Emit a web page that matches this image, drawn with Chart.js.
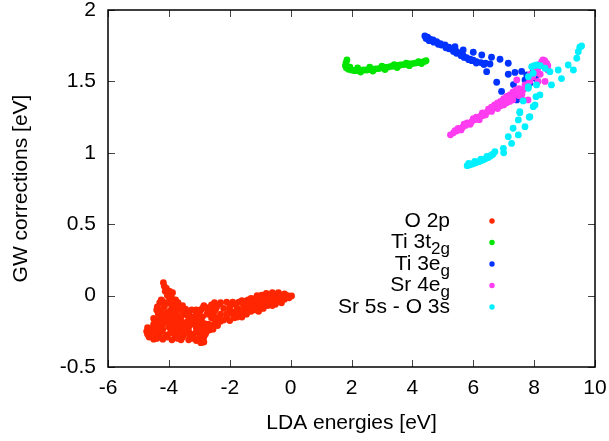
<!DOCTYPE html>
<html lang="en">
<head>
<meta charset="utf-8">
<title>GW corrections</title>
<script src="https://cdn.jsdelivr.net/npm/chart.js@4.4.1/dist/chart.umd.min.js"></script>
<style>
  html, body { margin: 0; padding: 0; background: #fff; }
  #wrap { width: 609px; height: 441px; }
</style>
</head>
<body>
<div id="wrap"><canvas id="grafico" width="609" height="441"></canvas></div>
<script>
// Ejes
const xTicks = [-6, -4, -2, 0, 2, 4, 6, 8, 10];
const xTickLabels = ["-6", "-4", "-2", "0", "2", "4", "6", "8", "10"];
const yTicks = [-0.5, 0, 0.5, 1, 1.5, 2];
const yTickLabels = ["-0.5", "0", "0.5", "1", "1.5", "2"];

// Leyenda (texto principal + subíndice)
const seriesNames = ["O 2p", "Ti 3t", "Ti 3e", "Sr 4e", "Sr 5s - O 3s"];
const seriesSubs = ["", "2g", "g", "g", ""];

// Datos [LDA, GW]
const o2p = [
  [-4.18,0.09],[-4.15,0.065],[-4.08,0.05],[-4.12,0.03],[-3.97,0.03],[-3.88,0.02],[-4.05,0.0],[-3.92,-0.01],
  [-4.25,-0.03],[-3.98,-0.03],[-3.78,-0.03],[-4.2,-0.04],[-3.92,-0.06],
  [-4.3,-0.05],[-4.1,-0.055],[-3.85,-0.05],[-3.7,-0.05],
  [-4.38,-0.08],[-4.15,-0.08],[-3.9,-0.08],[-3.75,-0.085],[-3.55,-0.07],
  [-4.4,-0.1],[-4.25,-0.1],[-3.95,-0.105],[-3.62,-0.1],[-3.45,-0.095],[-3.25,-0.1],[-3.1,-0.1],[-2.95,-0.1],
  [-4.35,-0.125],[-4.2,-0.13],[-4.05,-0.12],[-3.8,-0.125],[-3.5,-0.12],[-3.35,-0.125],[-3.0,-0.12],
  [-4.32,-0.15],[-4.15,-0.15],[-4.0,-0.14],[-3.75,-0.14],[-3.9,-0.155],[-3.6,-0.145],[-3.4,-0.14],[-3.2,-0.15],[-3.1,-0.135],[-2.9,-0.15],
  [-4.5,-0.16],[-4.45,-0.175],[-4.25,-0.17],[-4.05,-0.18],[-3.85,-0.175],[-3.7,-0.18],[-3.6,-0.175],[-3.4,-0.185],[-3.3,-0.17],[-3.05,-0.175],[-2.95,-0.17],
  [-4.5,-0.2],[-4.35,-0.19],[-4.2,-0.2],[-3.95,-0.2],[-3.55,-0.2],[-3.25,-0.2],[-3.15,-0.19],[-3.0,-0.2],[-2.85,-0.195],
  [-4.7,-0.225],[-4.55,-0.23],[-4.35,-0.225],[-4.2,-0.235],[-4.0,-0.22],[-3.8,-0.21],[-3.65,-0.22],[-3.45,-0.225],[-3.35,-0.22],[-3.1,-0.225],[-2.95,-0.22],[-2.8,-0.22],
  [-4.73,-0.25],[-4.5,-0.25],[-4.25,-0.25],[-3.95,-0.26],[-3.85,-0.245],[-3.7,-0.245],[-3.6,-0.25],[-3.45,-0.26],[-3.35,-0.25],[-3.1,-0.255],[-3.0,-0.25],[-2.85,-0.245],[-2.75,-0.25],
  [-4.7,-0.27],[-4.6,-0.27],[-4.4,-0.27],[-4.1,-0.275],[-3.75,-0.27],[-3.5,-0.27],[-3.2,-0.27],[-2.95,-0.275],[-2.8,-0.27],
  [-4.65,-0.29],[-4.3,-0.29],[-4.05,-0.29],[-3.8,-0.295],[-3.55,-0.29],[-3.3,-0.29],[-3.0,-0.295],[-2.85,-0.29],
  [-4.5,-0.305],[-4.4,-0.3],[-4.2,-0.305],[-3.9,-0.31],[-3.7,-0.3],[-3.6,-0.31],[-3.35,-0.31],[-3.2,-0.3],[-3.1,-0.315],[-2.9,-0.315],
  [-2.95,-0.33],[-2.85,-0.325],
  [-0.8,0.015],[-0.6,0.02],[-0.4,0.02],[-0.2,0.012],
  [-1.1,0.0],[-0.95,0.003],[-0.7,0.005],[-0.5,0.005],[-0.3,0.0],[-0.1,0.0],[0.03,-0.002],[-0.25,-0.01],
  [-1.3,-0.02],[-1.15,-0.02],[-0.9,-0.02],[-0.65,-0.02],[-0.45,-0.02],[-0.2,-0.025],[-0.05,-0.015],
  [-1.6,-0.035],[-1.4,-0.03],[-1.0,-0.03],[-0.8,-0.03],[-0.6,-0.035],[-0.4,-0.03],
  [-2.5,-0.05],[-2.3,-0.05],[-2.1,-0.045],[-1.9,-0.045],[-1.7,-0.045],[-1.5,-0.04],[-1.2,-0.04],[-0.95,-0.045],[-0.75,-0.045],[-0.55,-0.045],[-0.35,-0.04],
  [-0.5,-0.06],[-0.3,-0.05],
  [-2.85,-0.07],[-2.6,-0.065],[-2.4,-0.07],[-2.0,-0.065],[-1.8,-0.065],[-1.55,-0.065],[-1.35,-0.065],[-1.1,-0.065],[-0.85,-0.065],[-0.6,-0.07],
  [-2.75,-0.085],[-2.45,-0.09],[-2.0,-0.09],[-1.55,-0.09],[-1.25,-0.075],[-1.0,-0.08],[-0.75,-0.07],
  [-2.9,-0.09],[-2.65,-0.09],[-2.2,-0.09],[-1.75,-0.09],[-1.4,-0.09],[-1.15,-0.09],[-0.9,-0.09],
  [-2.7,-0.11],[-2.5,-0.11],[-2.0,-0.11],[-1.8,-0.11],[-1.6,-0.11],[-1.45,-0.11],[-1.3,-0.11],[-1.15,-0.1],[-1.05,-0.11],
  [-2.75,-0.13],[-2.55,-0.13],[-2.3,-0.13],[-2.1,-0.13],[-1.9,-0.13],[-1.7,-0.135],[-1.6,-0.13],[-1.45,-0.13],
  [-2.6,-0.155],[-2.4,-0.155],[-2.1,-0.155],[-1.85,-0.155],[-1.75,-0.15],[-1.6,-0.15],
  [-2.45,-0.18],[-2.3,-0.18],[-2.2,-0.17],[-2.0,-0.175],
  [-2.7,-0.2],[-2.5,-0.195],[-2.6,-0.21],[-2.4,-0.21],
  [-2.65,-0.24],[-2.55,-0.235]
];
const ti3t2g = [
  [1.85,1.65],[1.82,1.63],[1.80,1.61],[1.83,1.595],[1.9,1.585],[1.95,1.6],[2.0,1.58],[2.1,1.575],
  [2.2,1.575],[2.3,1.578],[2.4,1.58],[2.5,1.58],[2.6,1.583],[2.7,1.585],[2.8,1.588],[2.9,1.59],
  [3.0,1.595],[3.1,1.598],[3.2,1.6],[3.3,1.605],[3.4,1.608],[3.5,1.612],[3.6,1.615],[3.7,1.618],
  [3.8,1.62],[3.9,1.623],[4.0,1.625],[4.1,1.628],[4.2,1.632],[4.3,1.635],[4.4,1.64],[4.45,1.645],
  [2.2,1.595],[2.6,1.6],[3.0,1.607],[3.4,1.618],[3.8,1.628],[4.2,1.638],
  [2.3,1.565],[2.7,1.572],[3.1,1.583],[3.5,1.597],[3.9,1.61],[4.3,1.625]
];
const ti3eg = [
  [4.41,1.818],[4.5,1.81],[4.58,1.795],[4.68,1.79],[4.8,1.778],[4.92,1.765],[5.07,1.755],[5.2,1.74],
  [5.34,1.725],[5.45,1.71],[5.56,1.697],[5.67,1.68],[5.78,1.666],[5.9,1.655],[6.0,1.648],[6.11,1.638],
  [6.25,1.632],[6.4,1.627],[6.55,1.622],
  [4.45,1.8],[4.7,1.775],[4.95,1.755],[5.2,1.728],[5.45,1.697],[5.7,1.668],[5.95,1.645],
  [4.55,1.785],[4.85,1.76],[5.1,1.735],[5.35,1.71],[5.6,1.68],[5.85,1.652],[6.1,1.628],[6.35,1.618],
  [5.4,1.743],[5.67,1.72],[6.0,1.704],[6.28,1.685],[6.6,1.669],[6.88,1.655],[7.15,1.627],
  [6.44,1.568],[6.77,1.494],[6.93,1.43],[7.15,1.55],[7.37,1.563],[7.59,1.57],[7.32,1.478],
  [7.7,1.51],[7.86,1.487],[7.37,1.428],[7.43,1.37],[7.76,1.545],[7.95,1.56],[8.05,1.52]
];
const sr4eg = [
  [5.25,1.126],[5.35,1.14],[5.45,1.153],[5.55,1.166],[5.65,1.179],[5.75,1.192],[5.85,1.206],[5.95,1.219],
  [6.05,1.232],[6.15,1.245],[6.25,1.258],[6.35,1.272],[6.45,1.285],[6.55,1.298],[6.65,1.311],[6.75,1.324],
  [6.85,1.338],[6.95,1.351],[7.05,1.364],[7.15,1.377],[7.25,1.39],[7.35,1.404],[7.45,1.417],[7.55,1.43],
  [7.65,1.443],[7.75,1.456],
  [5.5,1.17],[5.8,1.21],[6.1,1.25],[6.3,1.28],[6.5,1.305],[6.7,1.335],[6.9,1.36],[7.0,1.38],[7.2,1.405],
  [7.3,1.425],[7.5,1.45],
  [5.6,1.16],[5.9,1.2],[6.2,1.232],[6.4,1.265],[6.6,1.29],[6.8,1.31],[7.0,1.335],[7.1,1.35],[7.3,1.37],[7.5,1.4],
  [5.4,1.155],[5.7,1.2],[6.0,1.24],[6.3,1.26],[6.6,1.32],[6.9,1.33],[7.1,1.395],[7.2,1.36],[7.4,1.44],
  [7.6,1.41],[6.8,1.35],[7.0,1.365],
  [7.85,1.5],[7.95,1.53],[8.05,1.56],[8.12,1.59],[8.2,1.62],[8.25,1.638],[8.29,1.65],[8.35,1.645],
  [8.41,1.627],[8.35,1.6],[8.1,1.6],[8.0,1.58],[7.9,1.55],[8.45,1.58],[8.36,1.5],[8.13,1.5],
  [7.8,1.37],[7.63,1.37],[7.86,1.545],[7.43,1.51],[7.47,1.43],[7.7,1.475],[7.96,1.545],[8.2,1.55],[8.45,1.61]
];
const sr5s = [
  [5.8,0.91],[5.88,0.915],[5.95,0.92],[6.02,0.925],[6.1,0.932],[6.18,0.938],[6.25,0.944],[6.32,0.95],
  [6.4,0.958],[6.48,0.966],[6.56,0.975],
  [5.85,0.925],[6.05,0.94],[6.25,0.955],[6.45,0.975],[6.6,0.985],
  [6.65,0.99],[6.71,1.008],[6.99,1.031],[7.0,1.0],[7.26,1.066],[7.15,1.113],[7.31,1.172],[7.48,1.125],
  [7.48,1.23],[7.53,1.28],[7.7,1.183],[7.84,1.249],[7.97,1.323],[8.06,1.393],[8.19,1.405],[8.08,1.475],
  [7.81,1.463],[8.57,1.475],[8.9,1.52],[8.79,1.58],[9.12,1.615],[9.29,1.58],[9.4,1.662],[9.45,1.708],
  [9.5,1.74],[9.56,1.748],
  [7.92,1.603],[8.0,1.61],[8.08,1.615],[8.2,1.61],[8.36,1.592],[8.52,1.568],[7.97,1.557],[7.81,1.533],
  [8.03,1.335],[7.64,1.363],[7.53,1.288],[7.86,1.253],[7.81,1.452]
];

const colores = ["#ff2600", "#00e600", "#0033ff", "#ff3cf0", "#00f0ff"];
const series = [o2p, ti3t2g, ti3eg, sr4eg, sr5s];

const fuente = "'Liberation Sans', Arial, Helvetica, sans-serif";
Chart.defaults.font.family = fuente;
Chart.defaults.font.size = 21;
Chart.defaults.color = "#000";

// Marco, ticks hacia dentro y leyenda con subíndices
const marco = {
  id: "marco",
  afterDraw(chart) {
    const { ctx, chartArea: a, scales: { x, y } } = chart;
    ctx.save();
    ctx.strokeStyle = "#444";
    ctx.lineWidth = 1;
    ctx.beginPath();
    xTicks.forEach(v => {
      const px = Math.round(x.getPixelForValue(v)) + 0.5;
      ctx.moveTo(px, a.bottom); ctx.lineTo(px, a.bottom - 7);
      ctx.moveTo(px, a.top); ctx.lineTo(px, a.top + 7);
    });
    yTicks.forEach(v => {
      const py = Math.round(y.getPixelForValue(v)) + 0.5;
      ctx.moveTo(a.left, py); ctx.lineTo(a.left + 7, py);
      ctx.moveTo(a.right, py); ctx.lineTo(a.right - 7, py);
    });
    ctx.stroke();
    ctx.strokeStyle = "#000";
    ctx.lineWidth = 1.5;
    ctx.strokeRect(a.left, a.top, a.right - a.left, a.bottom - a.top);

    // Leyenda
    const textoDer = 450, marcaX = 492, fila0 = 221, paso = 21.5;
    ctx.textBaseline = "middle";
    ctx.textAlign = "left";
    seriesNames.forEach((nombre, i) => {
      const fy = fila0 + i * paso;
      ctx.font = "21px " + fuente;
      const w1 = ctx.measureText(nombre).width;
      ctx.font = "17px " + fuente;
      const w2 = seriesSubs[i] ? ctx.measureText(seriesSubs[i]).width : 0;
      const x0 = textoDer - w1 - w2;
      ctx.fillStyle = "#000";
      ctx.font = "21px " + fuente;
      ctx.fillText(nombre, x0, fy);
      if (seriesSubs[i]) {
        ctx.font = "17px " + fuente;
        ctx.fillText(seriesSubs[i], x0 + w1, fy + 7);
      }
      ctx.fillStyle = colores[i];
      ctx.beginPath();
      ctx.arc(marcaX, fy, 2.7, 0, Math.PI * 2);
      ctx.fill();
    });
    ctx.restore();
  }
};

const datasets = series.map((pts, i) => ({
  label: seriesNames[i] + seriesSubs[i],
  data: pts.map(p => ({ x: p[0], y: p[1] })),
  backgroundColor: colores[i],
  borderWidth: 0,
  pointRadius: 3.4,
  pointHoverRadius: 3.4,
  order: series.length - i
}));

new Chart(document.getElementById("grafico"), {
  type: "scatter",
  data: { datasets },
  options: {
    responsive: false,
    animation: false,
    layout: { padding: { top: 10, right: 14, left: 0, bottom: 0 } },
    plugins: { legend: { display: false }, tooltip: { enabled: false } },
    scales: {
      x: {
        min: -6, max: 10,
        afterBuildTicks: s => { s.ticks = xTicks.map(v => ({ value: v })); },
        afterFit: s => { s.height = 74; s.paddingLeft = 0; s.paddingRight = 0; },
        ticks: { padding: 9, maxRotation: 0, callback: (v, i) => xTickLabels[i] },
        grid: { display: false, drawTicks: false },
        border: { display: false },
        title: { display: true, text: "LDA energies [eV]", padding: { top: 0, bottom: 5 } }
      },
      y: {
        min: -0.5, max: 2,
        afterBuildTicks: s => { s.ticks = yTicks.map(v => ({ value: v })); },
        afterFit: s => { s.width = 108; s.paddingTop = 0; s.paddingBottom = 0; },
        ticks: { padding: 12, callback: (v, i) => yTickLabels[i] },
        grid: { display: false, drawTicks: false },
        border: { display: false },
        title: { display: true, text: "GW corrections [eV]", padding: { top: 9, bottom: 0 } }
      }
    }
  },
  plugins: [marco]
});
</script>
</body>
</html>
